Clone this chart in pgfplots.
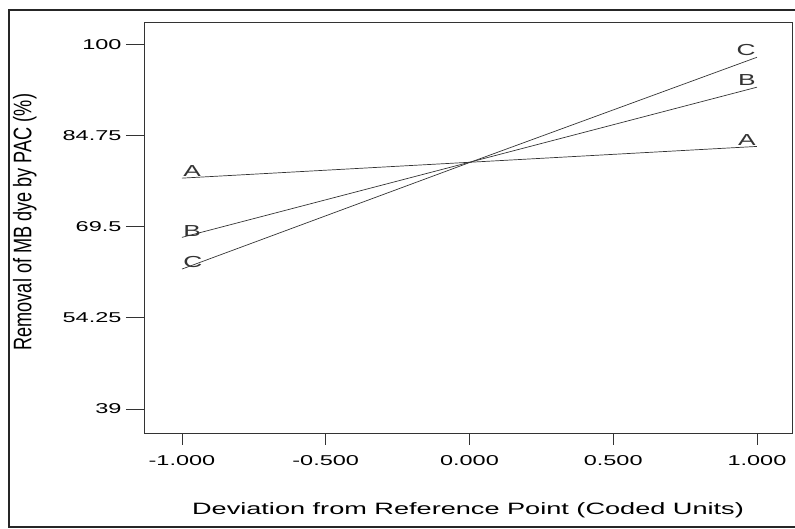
\documentclass[border=0pt]{standalone}
\usepackage{pgfplots}
\pgfplotsset{compat=1.18}
\usepackage{fontspec}
\setmainfont[FakeStretch=1.65]{Liberation Sans}
\newfontfamily\plainfont{Liberation Sans}
\begin{document}
\begin{tikzpicture}[x=1bp,y=1bp]
\useasboundingbox (0,0) rectangle (795,529);
\draw[line width=1.8bp, black!85] (797,519) -- (9,519) -- (9,2) -- (797,2);
\begin{axis}[
  at={(144bp,96bp)}, anchor=south west,
  width=648bp, height=411bp, scale only axis,
  xmin=-1.132, xmax=1.122, ymin=35.0, ymax=103.7,
  xtick={-1,-0.5,0,0.5,1},
  xticklabels={-1.000,-0.500,0.000,0.500,1.000},
  ytick={39,54.25,69.5,84.75,100},
  yticklabels={39,54.25,69.5,84.75,100},
  tick align=outside, xtick pos=bottom, ytick pos=left,
  major tick length=18bp,
  xtick style={/pgfplots/major tick length=12bp, black!80, line width=0.8bp},
  ytick style={black!80, line width=0.8bp},
  axis line style={black!80, line width=0.8bp},
  tick label style={font=\fontsize{14.3}{16}\selectfont},
  xticklabel style={yshift=-1bp},
  yticklabel style={xshift=-1bp},
  xlabel={Deviation from Reference Point (Coded Units)},
  ylabel={\plainfont\scalebox{1}[1.4]{Removal of MB dye by PAC (\%)}},
  xlabel style={font=\fontsize{16.5}{18}\selectfont, at={(axis description cs:0.5,-0.187)}, anchor=center},
  ylabel style={font=\fontsize{18.2}{20}\selectfont, at={(axis description cs:-0.184,0.513)}, anchor=center},
]
\addplot[black!80, line width=0.7bp] coordinates {(-1,77.6) (0,80.25) (1,82.9)}
  node[pos=0, anchor=south west, inner sep=1bp, font=\fontsize{16}{18}\selectfont]{A}
  node[pos=1, anchor=south east, inner sep=1bp, font=\fontsize{16}{18}\selectfont]{A};
\addplot[black!80, line width=0.7bp] coordinates {(-1,67.7) (0,80.25) (1,92.8)}
  node[pos=0, anchor=south west, inner sep=1bp, font=\fontsize{16}{18}\selectfont]{B}
  node[pos=1, anchor=south east, inner sep=1bp, font=\fontsize{16}{18}\selectfont]{B};
\addplot[black!80, line width=0.7bp] coordinates {(-1,62.4) (0,80.2) (1,97.8)}
  node[pos=0, anchor=south west, inner sep=1bp, font=\fontsize{16}{18}\selectfont]{C}
  node[pos=1, anchor=south east, inner sep=1bp, font=\fontsize{16}{18}\selectfont]{C};
\end{axis}
\end{tikzpicture}
\end{document}
